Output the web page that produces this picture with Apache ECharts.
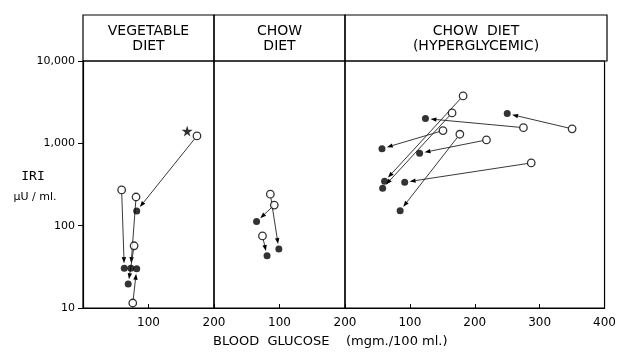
<!DOCTYPE html>
<html>
<head>
<meta charset="utf-8">
<script src="https://cdn.jsdelivr.net/npm/echarts@6/dist/echarts.min.js"></script>
<style>
  html, body { margin: 0; padding: 0; background: #fff; }
  #chart { width: 619px; height: 353px; }
</style>
</head>
<body>
<div id="chart"></div>
<script>
// blood glucose (mg/100 ml) vs IRI (uU/ml), before (open) -> after (filled)
const panelTitles = [['VEGETABLE', 'DIET'], ['CHOW', 'DIET'], ['CHOW  DIET', '(HYPERGLYCEMIC)']];
const xMax = [200, 200, 400];
const yTicks = [10, 100, 1000, 10000];

const openVeg   = [[174, 1230], [59, 272], [81, 223], [78, 57], [76, 11.5]];
const filledVeg = [[82, 151], [63, 30.5], [73, 30.5], [69, 19.5], [82, 30]];
const starVeg   = [[159, 1410]];

const openChow   = [[86, 241], [92, 178], [74, 75]];
const filledChow = [[99, 52], [65, 112], [81, 43]];

const openHyper   = [[275, 1550], [350, 1500], [218, 1100], [287, 578], [151, 1430], [177, 1290], [182, 3770], [165, 2340]];
const filledHyper = [[124, 2000], [250, 2300], [115, 758], [92, 337], [57, 862], [85, 152], [61, 346], [58, 285]];

const FONT = 'DejaVu Sans';
const INK = '#000';

// panel geometry (px)
const panels = [
  { left: 83, width: 131 },
  { left: 214, width: 131 },
  { left: 345, width: 262 },
];
const TOP = 15, HEAD = 46, PLOT_H = 247;

const chart = echarts.init(document.getElementById('chart'), null, { renderer: 'canvas' });

function pairs(a, b) {
  return a.map((p, i) => [p[0], p[1], b[i][0], b[i][1]]);
}

// arrow from open to filled point, stopping just short of the filled dot
function arrowItem(params, api) {
  const p1 = api.coord([api.value(0), api.value(1)]);
  const p2 = api.coord([api.value(2), api.value(3)]);
  const dx = p2[0] - p1[0], dy = p2[1] - p1[1];
  const len = Math.sqrt(dx * dx + dy * dy) || 1;
  const ux = dx / len, uy = dy / len;
  const s0 = [p1[0] + ux * 4, p1[1] + uy * 4];
  const tip = [p2[0] - ux * 5, p2[1] - uy * 5];
  const base = [tip[0] - ux * 6, tip[1] - uy * 6];
  const nx = -uy * 2.2, ny = ux * 2.2;
  return {
    type: 'group',
    children: [
      { type: 'line', shape: { x1: s0[0], y1: s0[1], x2: base[0], y2: base[1] },
        style: { stroke: '#222', lineWidth: 0.9 } },
      { type: 'polygon', shape: { points: [tip, [base[0] + nx, base[1] + ny], [base[0] - nx, base[1] - ny]] },
        style: { fill: INK } },
    ],
  };
}

const grids = panels.map(p => ({
  left: p.left, width: p.width, top: TOP + HEAD, height: PLOT_H,
  show: true, borderColor: INK, borderWidth: 1.2, backgroundColor: 'transparent',
}));

const xAxes = panels.map((p, i) => ({
  gridIndex: i, type: 'value', min: 0, max: xMax[i], interval: 100,
  axisLine: { show: true, lineStyle: { color: INK, width: 1.2 } },
  axisTick: { show: true, inside: true, length: 4, lineStyle: { color: INK } },
  axisLabel: {
    color: INK, fontFamily: FONT, fontSize: 12, margin: 9,
    showMinLabel: true, showMaxLabel: true,
    formatter: v => (v === 0 ? '' : String(v)),
  },
  splitLine: { show: false },
}));

const yAxes = panels.map((p, i) => ({
  gridIndex: i, type: 'log', logBase: 10, min: yTicks[0], max: yTicks[yTicks.length - 1],
  show: i === 0,
  axisLine: { show: true, lineStyle: { color: INK, width: 1.2 } },
  axisTick: { show: true, inside: false, length: 5, lineStyle: { color: INK } },
  minorTick: { show: false },
  axisLabel: {
    color: INK, fontFamily: FONT, fontSize: 11, margin: 8,
    formatter: v => Number(v).toLocaleString('en-US'),
  },
  splitLine: { show: false },
}));

const openStyle = { color: '#fff', borderColor: INK, borderWidth: 1.3 };
const filledStyle = { color: INK };
const groups = [
  { open: openVeg, filled: filledVeg },
  { open: openChow, filled: filledChow },
  { open: openHyper, filled: filledHyper },
];

const series = [];
groups.forEach((g, i) => {
  series.push({
    type: 'custom', xAxisIndex: i, yAxisIndex: i, silent: true, z: 2,
    renderItem: arrowItem, data: pairs(g.open, g.filled),
    encode: { x: [0, 2], y: [1, 3] },
  });
  series.push({
    type: 'scatter', xAxisIndex: i, yAxisIndex: i, silent: true, z: 3,
    symbol: 'circle', symbolSize: 7.5, itemStyle: openStyle, data: g.open,
  });
  series.push({
    type: 'scatter', xAxisIndex: i, yAxisIndex: i, silent: true, z: 3,
    symbol: 'circle', symbolSize: 7, itemStyle: filledStyle, data: g.filled,
  });
});
series.push({
  type: 'scatter', xAxisIndex: 0, yAxisIndex: 0, silent: true, z: 3,
  symbol: 'path://M50,0 L61,35 L98,35 L68,57 L79,91 L50,70 L21,91 L32,57 L2,35 L39,35 Z',
  symbolSize: 11, itemStyle: filledStyle, data: starVeg,
});

// header boxes and their titles
const graphic = [];
panels.forEach((p, i) => {
  graphic.push({
    type: 'rect', silent: true,
    shape: { x: p.left, y: TOP, width: p.width, height: HEAD },
    style: { fill: 'none', stroke: INK, lineWidth: 1.2 },
  });
  panelTitles[i].forEach((t, k) => {
    graphic.push({
      type: 'text', x: p.left + p.width / 2, y: TOP + 16 + k * 15, silent: true,
      style: { text: t, fill: INK, font: '14px "' + FONT + '"', textAlign: 'center', textVerticalAlign: 'middle' },
    });
  });
});
graphic.push(
  { type: 'text', x: 33, y: 177, silent: true,
    style: { text: 'IRI', fill: INK, font: '13px "DejaVu Sans Mono"', textAlign: 'center', textVerticalAlign: 'middle' } },
  { type: 'text', x: 35, y: 197, silent: true,
    style: { text: '\u00b5U / ml.', fill: INK, font: '11px "' + FONT + '"', textAlign: 'center', textVerticalAlign: 'middle' } },
  { type: 'text', x: 213, y: 342, silent: true,
    style: { text: 'BLOOD  GLUCOSE    (mgm./100 ml.)', fill: INK, font: '13px "' + FONT + '"', textAlign: 'left', textVerticalAlign: 'middle' } }
);

chart.setOption({
  backgroundColor: '#fff',
  animation: false,
  grid: grids,
  xAxis: xAxes,
  yAxis: yAxes,
  series,
  graphic,
});
</script>
</body>
</html>
